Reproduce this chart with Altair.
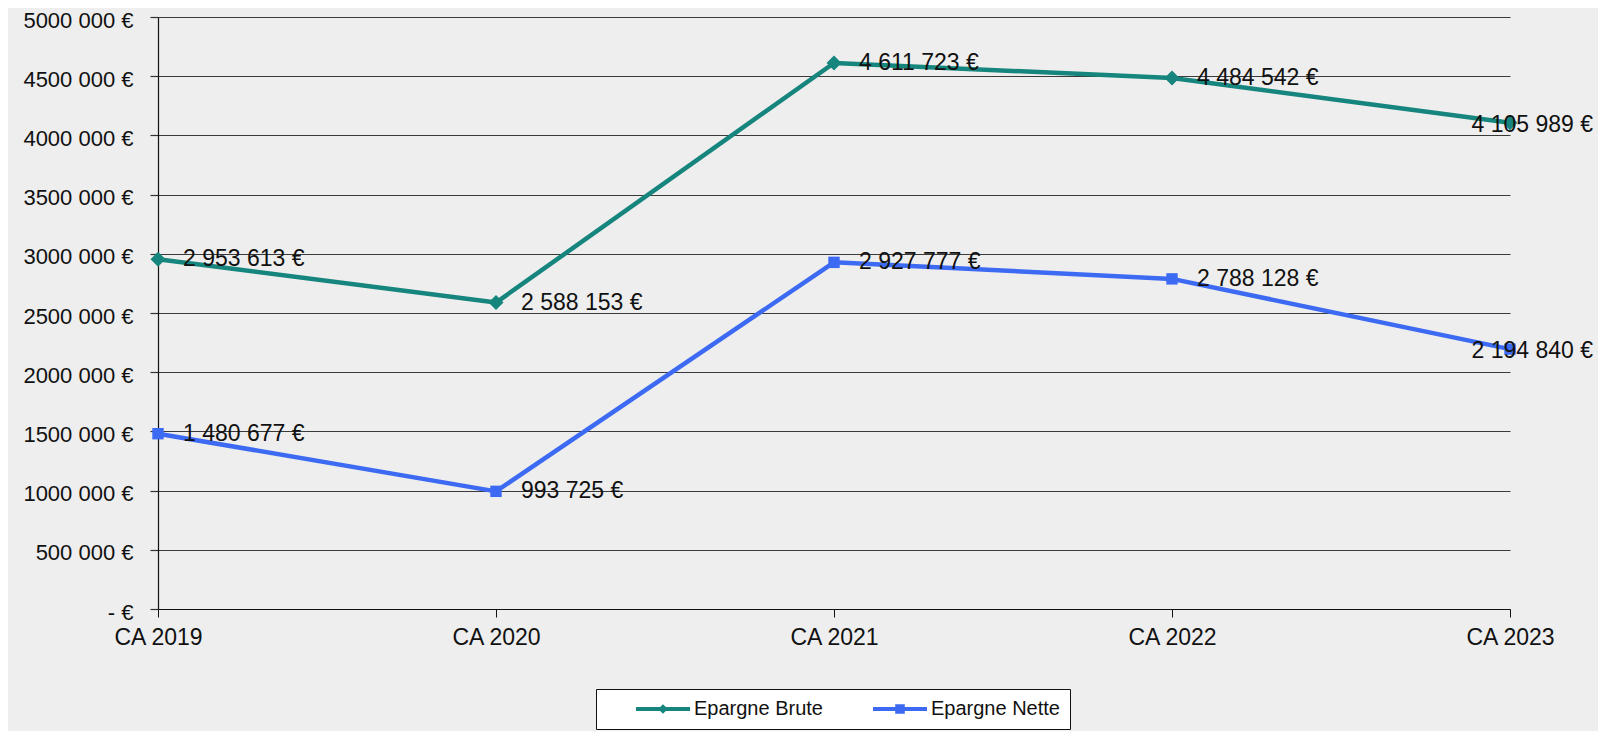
import altair as alt
import pandas as pd

# ---- data ----
categories = ["CA 2019", "CA 2020", "CA 2021", "CA 2022", "CA 2023"]
series_names = ["Epargne Brute", "Epargne Nette"]
epargne_brute = [2953613, 2588153, 4611723, 4484542, 4105989]
epargne_nette = [1480677, 993725, 2927777, 2788128, 2194840]
y_tick_values = [0, 500000, 1000000, 1500000, 2000000, 2500000,
                 3000000, 3500000, 4000000, 4500000, 5000000]
y_tick_labels = ["- €", "500 000 €", "1000 000 €", "1500 000 €", "2000 000 €",
                 "2500 000 €", "3000 000 €", "3500 000 €", "4000 000 €",
                 "4500 000 €", "5000 000 €"]

# ---- styling ----
series_colors = ["#16857d", "#3d6af2"]
marker_shapes = ["diamond", "square"]
legend_shapes = [
    "M-4.5,-0.33L4.5,-0.33L4.5,0.33L-4.5,0.33Z M0,-0.8L0.8,0L0,0.8L-0.8,0Z",
    "M-4.5,-0.33L4.5,-0.33L4.5,0.33L-4.5,0.33Z M-0.8,-0.8L0.8,-0.8L0.8,0.8L-0.8,0.8Z",
]
FONT = "Liberation Sans"


def fmt_eur(v):
    return f"{v:,}".replace(",", " ") + " €"


rows = []
for name, values in zip(series_names, [epargne_brute, epargne_nette]):
    for cat, v in zip(categories, values):
        rows.append({"category": cat, "series": name, "value": v, "label": fmt_eur(v)})
df = pd.DataFrame(rows)

label_expr = " : ".join(
    f"datum.value == {v} ? '{l}'" for v, l in zip(y_tick_values, y_tick_labels)
) + " : ''"

x_enc = alt.X(
    "category:N",
    sort=categories,
    scale=alt.Scale(type="point", padding=0, domain=categories),
    axis=alt.Axis(
        title=None, labelAngle=0, labelFont=FONT, labelFontSize=23,
        labelColor="#111111", tickColor="#111111", tickSize=8, tickWidth=1,
        domainColor="#111111", domainWidth=1.2, labelPadding=9, grid=False,
    ),
)
y_enc = alt.Y(
    "value:Q",
    scale=alt.Scale(domain=[0, 5000000], nice=False, zero=True),
    axis=alt.Axis(
        title=None, values=y_tick_values, labelExpr=label_expr,
        labelFont=FONT, labelFontSize=22, labelColor="#111111", labelOffset=3,
        tickColor="#333333", tickSize=8, tickWidth=1.2,
        domainColor="#111111", domainWidth=1.2, labelPadding=17,
        grid=True, gridColor="#3a3a3a", gridWidth=1.2,
    ),
)

color_scale = alt.Scale(domain=series_names, range=series_colors)

base = alt.Chart(df)

lines = base.mark_line(strokeWidth=4.5, strokeCap="round", strokeJoin="round").encode(
    x=x_enc, y=y_enc,
    color=alt.Color("series:N", scale=color_scale, legend=None),
    detail="series:N",
)

points = base.mark_point(filled=True, opacity=1).encode(
    x=x_enc, y=y_enc,
    color=alt.Color("series:N", scale=color_scale, legend=None),
    shape=alt.Shape("series:N", scale=alt.Scale(domain=series_names, range=marker_shapes), legend=None),
    size=alt.condition(alt.datum.series == series_names[0], alt.value(225), alt.value(130)),
)

labels_main = base.mark_text(
    align="left", baseline="middle", dx=25, font=FONT, fontSize=23, color="#111111"
).encode(x=x_enc, y=y_enc, text="label:N").transform_filter(
    alt.datum.category != categories[-1]
)

labels_last = base.mark_text(
    align="right", baseline="middle", dx=83, dy=2, font=FONT, fontSize=23, color="#111111"
).encode(x=x_enc, y=y_enc, text="label:N").transform_filter(
    alt.datum.category == categories[-1]
)

legend_props = dict(
    title=None, orient="none", legendX=438, legendY=672, direction="horizontal",
    fillColor="#ffffff", strokeColor="#111111", padding=10,
    labelFont=FONT, labelFontSize=20, labelColor="#111111",
    symbolSize=144, symbolOffset=47, labelOffset=21, columnPadding=20,
    symbolStrokeWidth=0,
)

legend_layer = base.mark_point(filled=True, opacity=1).encode(
    x=x_enc, y=y_enc,
    color=alt.Color("series:N", scale=alt.Scale(domain=series_names, range=series_colors),
                    legend=alt.Legend(**legend_props)),
    shape=alt.Shape("series:N", scale=alt.Scale(domain=series_names, range=legend_shapes),
                    legend=alt.Legend(**legend_props)),
).transform_filter("datum.value < 0")

chart = alt.layer(lines, points, labels_main, labels_last, legend_layer).resolve_scale(
    color="independent", shape="independent"
).properties(
    width=1352, height=592,
    autosize=alt.AutoSizeParams(type="none"),
    padding={"left": 150, "top": 9, "right": 88, "bottom": 122},
    background="#eeeeee",
).configure_view(stroke=None)

chart.save("out.html", embed_options={"renderer": "svg", "actions": False})
